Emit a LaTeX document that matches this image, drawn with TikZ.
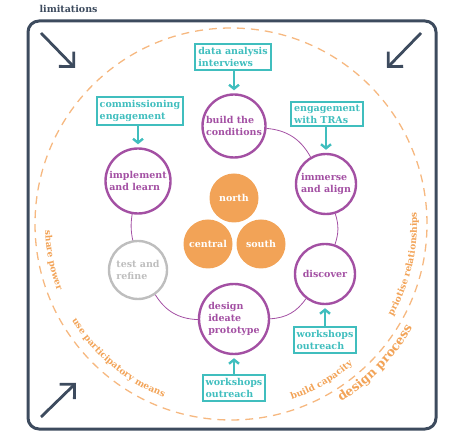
\documentclass[tikz,border=0pt]{standalone}
\usepackage{fontspec}
\setmainfont{DejaVu Serif}
\usetikzlibrary{arrows.meta,decorations.text}

\definecolor{slate}{RGB}{61,75,94}
\definecolor{plum}{RGB}{163,80,163}
\definecolor{aqua}{RGB}{64,190,190}
\definecolor{peach}{RGB}{242,163,87}
\definecolor{peachlight}{RGB}{246,184,128}
\definecolor{ash}{RGB}{190,190,190}

\newcommand{\labfont}{\fontsize{9.5}{12}\selectfont\bfseries}
\newcommand{\curvefont}{\fontsize{9}{10}\selectfont\bfseries\color{peach}}
\newcommand{\bigcurvefont}{\fontsize{12.5}{14}\selectfont\bfseries\color{peach}}

\tikzset{
  stage/.style={circle,draw=plum,line width=2.4pt,text=plum,font=\labfont,align=left,inner sep=0pt},
  region/.style={circle,fill=peach,text=white,font=\labfont,minimum size=49pt,inner sep=0pt},
  input/.style={draw=aqua,line width=1.8pt,text=aqua,font=\labfont,align=left,inner sep=3pt},
  feed/.style={-{Straight Barb[length=4pt,width=10pt]},aqua,line width=2.4pt,shorten >=3pt},
  corner/.style={-{Straight Barb[length=10.5pt,width=21pt]},slate,line width=2.8pt},
  ring/.style={plum,line width=0.8pt},
  curvetext/.style={decorate,decoration={text along path,text align=center,text={#1}}}
}

\begin{document}
\begin{tikzpicture}[x=1pt,y=1pt]
  \useasboundingbox (0,0) rectangle (460,436);
  % frame
  \draw[slate,line width=3pt,rounded corners=11pt] (28,7) rectangle (436,415);
  \node[anchor=west,text=slate,font=\labfont] (limits) at (36,427) {limitations};
  % corner arrows
  \coordinate (tlA) at (41,403); \coordinate (tlB) at (75,368);
  \coordinate (trA) at (421,403); \coordinate (trB) at (387,368);
  \coordinate (blA) at (41,19); \coordinate (blB) at (76,53);
  \draw[corner] (tlA) -- (tlB);
  \draw[corner] (trA) -- (trB);
  \draw[corner] (blA) -- (blB);
  % dashed boundary
  \coordinate (hub) at (231,212);
  \draw[peachlight,line width=1.3pt,dash pattern=on 8pt off 6pt] (hub) circle (196);
  % words on the boundary
  \path[curvetext={|\curvefont|share power}] ([shift={(166:186)}]hub) arc[start angle=166,end angle=217,radius=186];
  \path[curvetext={|\curvefont|use participatory means}] ([shift={(200:186)}]hub) arc[start angle=200,end angle=260,radius=186];
  \path[curvetext={|\curvefont|build capacity}] ([shift={(280:186)}]hub) arc[start angle=280,end angle=320,radius=186];
  \path[curvetext={|\curvefont|priotise relationships}] ([shift={(320:186)}]hub) arc[start angle=320,end angle=374,radius=186];
  \path[curvetext={|\bigcurvefont|design process}] ([shift={(290:209)}]hub) arc[start angle=290,end angle=342,radius=209];
  % stages
  \node[stage,minimum size=63pt] (build) at (234,310) {build the\\conditions};
  \node[stage,minimum size=60pt] (immerse) at (326,252) {immerse\\and align};
  \node[stage,minimum size=60pt] (discover) at (325,162) {discover};
  \node[stage,minimum size=70pt] (design) at (234,117) {design\\ideate\\prototype};
  \node[stage,draw=ash,text=ash,minimum size=58pt] (test) at (138,166) {test and\\refine};
  \node[stage,minimum size=65pt] (implement) at (138,255) {implement\\and learn};
  \draw[ring] (build) to[bend left=28] (immerse);
  \draw[ring] (immerse) to[bend left=18] (discover);
  \draw[ring] (discover) to[bend left=26] (design);
  \draw[ring] (design) to[bend left=28] (test);
  \draw[ring] (test) to[bend left=10] (implement);
  % regions
  \node[region] (north) at (234,238) {north};
  \node[region] (central) at (208,192) {central};
  \node[region] (south) at (261,192) {south};
  % inputs
  \node[input] (dataIn) at (233,379) {data analysis\\interviews};
  \node[input] (commIn) at (140,325) {commissioning\\engagement};
  \node[input] (traIn) at (327,322) {engagement\\with TRAs};
  \node[input] (workR) at (325,96) {workshops\\outreach};
  \node[input] (workB) at (234,48) {workshops\\outreach};
  \draw[feed] (dataIn.south -| build) -- (build.north);
  \draw[feed] (commIn.south -| implement) -- (implement.north);
  \draw[feed] (traIn.south -| immerse) -- (immerse.north);
  \draw[feed] (workR.north -| discover) -- (discover.south);
  \draw[feed] (workB.north -| design) -- (design.south);
\end{tikzpicture}
\end{document}
